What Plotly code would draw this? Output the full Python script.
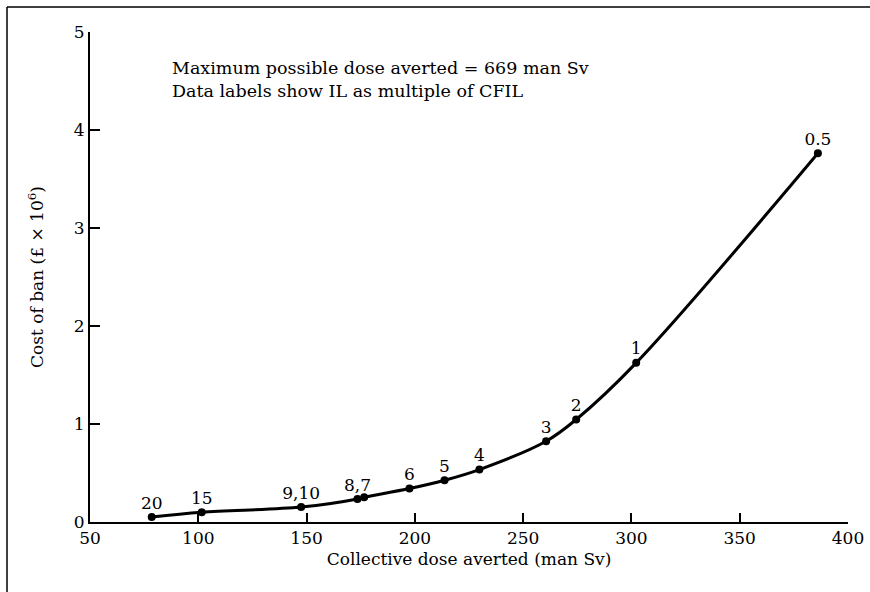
import plotly.graph_objects as go

dose_averted = [78.5, 101.6, 147.5, 173.5, 176.6, 197.5, 213.7, 229.8, 260.6, 274.5, 302.2, 386.1]
cost_of_ban = [0.051, 0.10, 0.153, 0.235, 0.252, 0.341, 0.426, 0.535, 0.824, 1.046, 1.624, 3.763]
il_labels = ["20", "15", "9,10", "8,7", "", "6", "5", "4", "3", "2", "1", "0.5"]
x_ticks = [50, 100, 150, 200, 250, 300, 350, 400]
y_ticks = [0, 1, 2, 3, 4, 5]

FONT = "DejaVu Serif"

lab_x = [x for x, t in zip(dose_averted, il_labels) if t]
lab_y = [y for y, t in zip(cost_of_ban, il_labels) if t]
lab_t = [t for t in il_labels if t]

fig = go.Figure()
fig.add_trace(go.Scatter(
    x=dose_averted, y=cost_of_ban,
    mode="lines+markers",
    line=dict(color="black", width=3, shape="spline", smoothing=1.0),
    marker=dict(color="black", size=8),
    cliponaxis=False,
    hoverinfo="skip",
))
fig.add_trace(go.Scatter(
    x=lab_x, y=lab_y,
    mode="markers+text",
    marker=dict(size=5, color="rgba(0,0,0,0)"),
    text=lab_t,
    textposition="top center",
    textfont=dict(family=FONT, size=17, color="black"),
    cliponaxis=False,
    hoverinfo="skip",
))

fig.update_layout(
    width=870, height=592,
    margin=dict(l=90, r=22, t=32, b=70, autoexpand=False),
    paper_bgcolor="white", plot_bgcolor="white",
    showlegend=False,
    font=dict(family=FONT, size=17, color="black"),
    xaxis=dict(
        range=[50, 400], tickvals=x_ticks, ticks="inside", ticklen=9, tickwidth=1.5,
        tickcolor="black", showline=True, linecolor="black", linewidth=2,
        showgrid=False, zeroline=False, tickfont=dict(family=FONT, size=17),
        title=dict(text="Collective dose averted (man Sv)", font=dict(family=FONT, size=17), standoff=6),
    ),
    yaxis=dict(
        range=[0, 5], tickvals=y_ticks, ticks="inside", ticklen=10, tickwidth=1.5,
        tickcolor="black", showline=True, linecolor="black", linewidth=2,
        showgrid=False, zeroline=False, tickfont=dict(family=FONT, size=17),
        title=dict(text="Cost of ban (£ × 10<sup>6</sup>)", font=dict(family=FONT, size=17), standoff=26),
    ),
    annotations=[dict(
        xref="paper", yref="paper", x=(170 - 90) / 758, y=(522 - 56) / 490,
        xanchor="left", yanchor="top", align="left", showarrow=False,
        text="Maximum possible dose averted = 669 man Sv<br>Data labels show IL as multiple of CFIL",
        font=dict(family=FONT, size=17.5, color="black"),
    )],
    shapes=[
        dict(type="line", xref="paper", yref="paper", x0=(7 - 90) / 758, x1=(7 - 90) / 758,
             y0=-0.2, y1=(522 - 7) / 490, line=dict(color="black", width=1.5)),
        dict(type="line", xref="paper", yref="paper", x0=(7 - 90) / 758, x1=1.05,
             y0=(522 - 7) / 490, y1=(522 - 7) / 490, line=dict(color="black", width=1.5)),
    ],
)

fig.write_html("out.html", config={"displayModeBar": False},
               post_script="document.body.style.margin='0';")
